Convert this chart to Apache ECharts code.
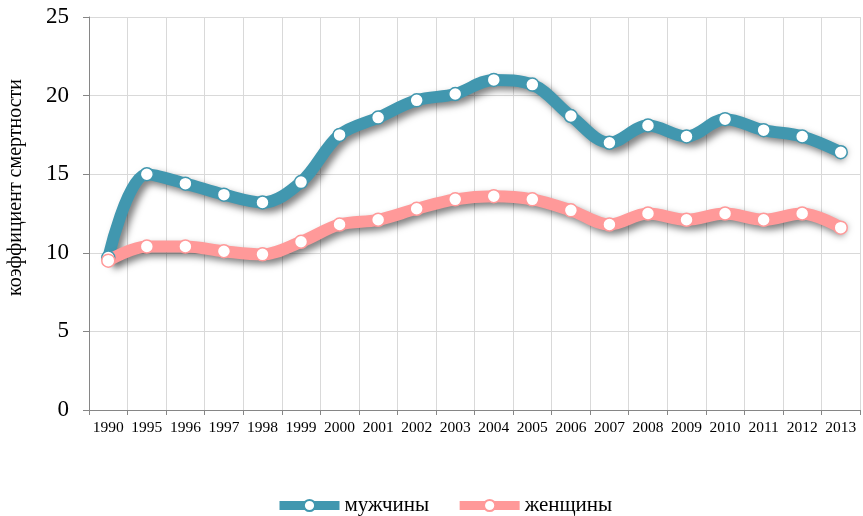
<!DOCTYPE html>
<html>
<head>
  <meta charset="utf-8">
  <title>ECharts</title>
  <script src="https://cdn.jsdelivr.net/npm/echarts@6/dist/echarts.min.js"></script>
</head>
<body style="margin:0">
<div id="main" style="width: 863px;height:516px;"></div>
<script type="text/javascript">
  var years = ['1990','1995','1996','1997','1998','1999','2000','2001','2002','2003',
               '2004','2005','2006','2007','2008','2009','2010','2011','2012','2013'];
  var men = [9.7, 15.0, 14.4, 13.7, 13.2, 14.5, 17.5, 18.6, 19.7, 20.1,
             21.0, 20.7, 18.7, 17.0, 18.1, 17.4, 18.5, 17.8, 17.4, 16.4];
  var women = [9.5, 10.4, 10.4, 10.1, 9.9, 10.7, 11.8, 12.1, 12.8, 13.4,
               13.6, 13.4, 12.7, 11.8, 12.5, 12.1, 12.5, 12.1, 12.5, 11.6];

  var chartDom = document.getElementById('main');
  var myChart = echarts.init(chartDom);
  var font = 'Liberation Serif, Times New Roman, serif';

  function lineSeries(name, data, color) {
    return {
      name: name,
      type: 'line',
      data: data,
      smooth: 0.35,
      symbol: 'circle',
      symbolSize: 13,
      lineStyle: {
        width: 12,
        color: color,
        shadowColor: 'rgba(0,0,0,0.5)',
        shadowBlur: 7,
        shadowOffsetX: 4,
        shadowOffsetY: 4
      },
      itemStyle: {
        color: '#ffffff',
        borderColor: color,
        borderWidth: 1.5
      }
    };
  }

  var option = {
    animation: false,
    textStyle: { fontFamily: font },
    grid: { left: 89, right: 3, top: 17, bottom: 106, outerBoundsMode: 'none', containLabel: false },
    legend: {
      top: 490,
      left: 270,
      itemWidth: 60,
      itemHeight: 14,
      itemGap: 26,
      lineStyle: { width: 9 },
      textStyle: { fontSize: 21, color: '#000', fontFamily: font },
      data: ['мужчины', 'женщины']
    },
    xAxis: {
      type: 'category',
      data: years,
      boundaryGap: true,
      axisLine: { lineStyle: { color: '#868686' } },
      axisTick: { show: true, alignWithLabel: false, length: 5, lineStyle: { color: '#868686' } },
      splitLine: { show: true, lineStyle: { color: '#d9d9d9', width: 1 } },
      axisLabel: { color: '#000', fontSize: 15.5, fontFamily: font, margin: 10, interval: 0 }
    },
    yAxis: {
      type: 'value',
      min: 0,
      max: 25,
      interval: 5,
      name: 'коэффициент смертности',
      nameLocation: 'middle',
      nameGap: 63,
      nameTextStyle: { fontSize: 20, color: '#000', fontFamily: font, padding: [0, 0, 0, 52] },
      axisLine: { show: true, lineStyle: { color: '#868686' } },
      axisTick: { show: true, length: 6, lineStyle: { color: '#868686' } },
      splitLine: { lineStyle: { color: '#d9d9d9', width: 1 } },
      axisLabel: { color: '#000', fontSize: 23, fontFamily: font, margin: 20 }
    },
    series: [
      lineSeries('мужчины', men, '#4197af'),
      lineSeries('женщины', women, '#ff9999')
    ]
  };

  option && myChart.setOption(option);
</script>
</body>
</html>
